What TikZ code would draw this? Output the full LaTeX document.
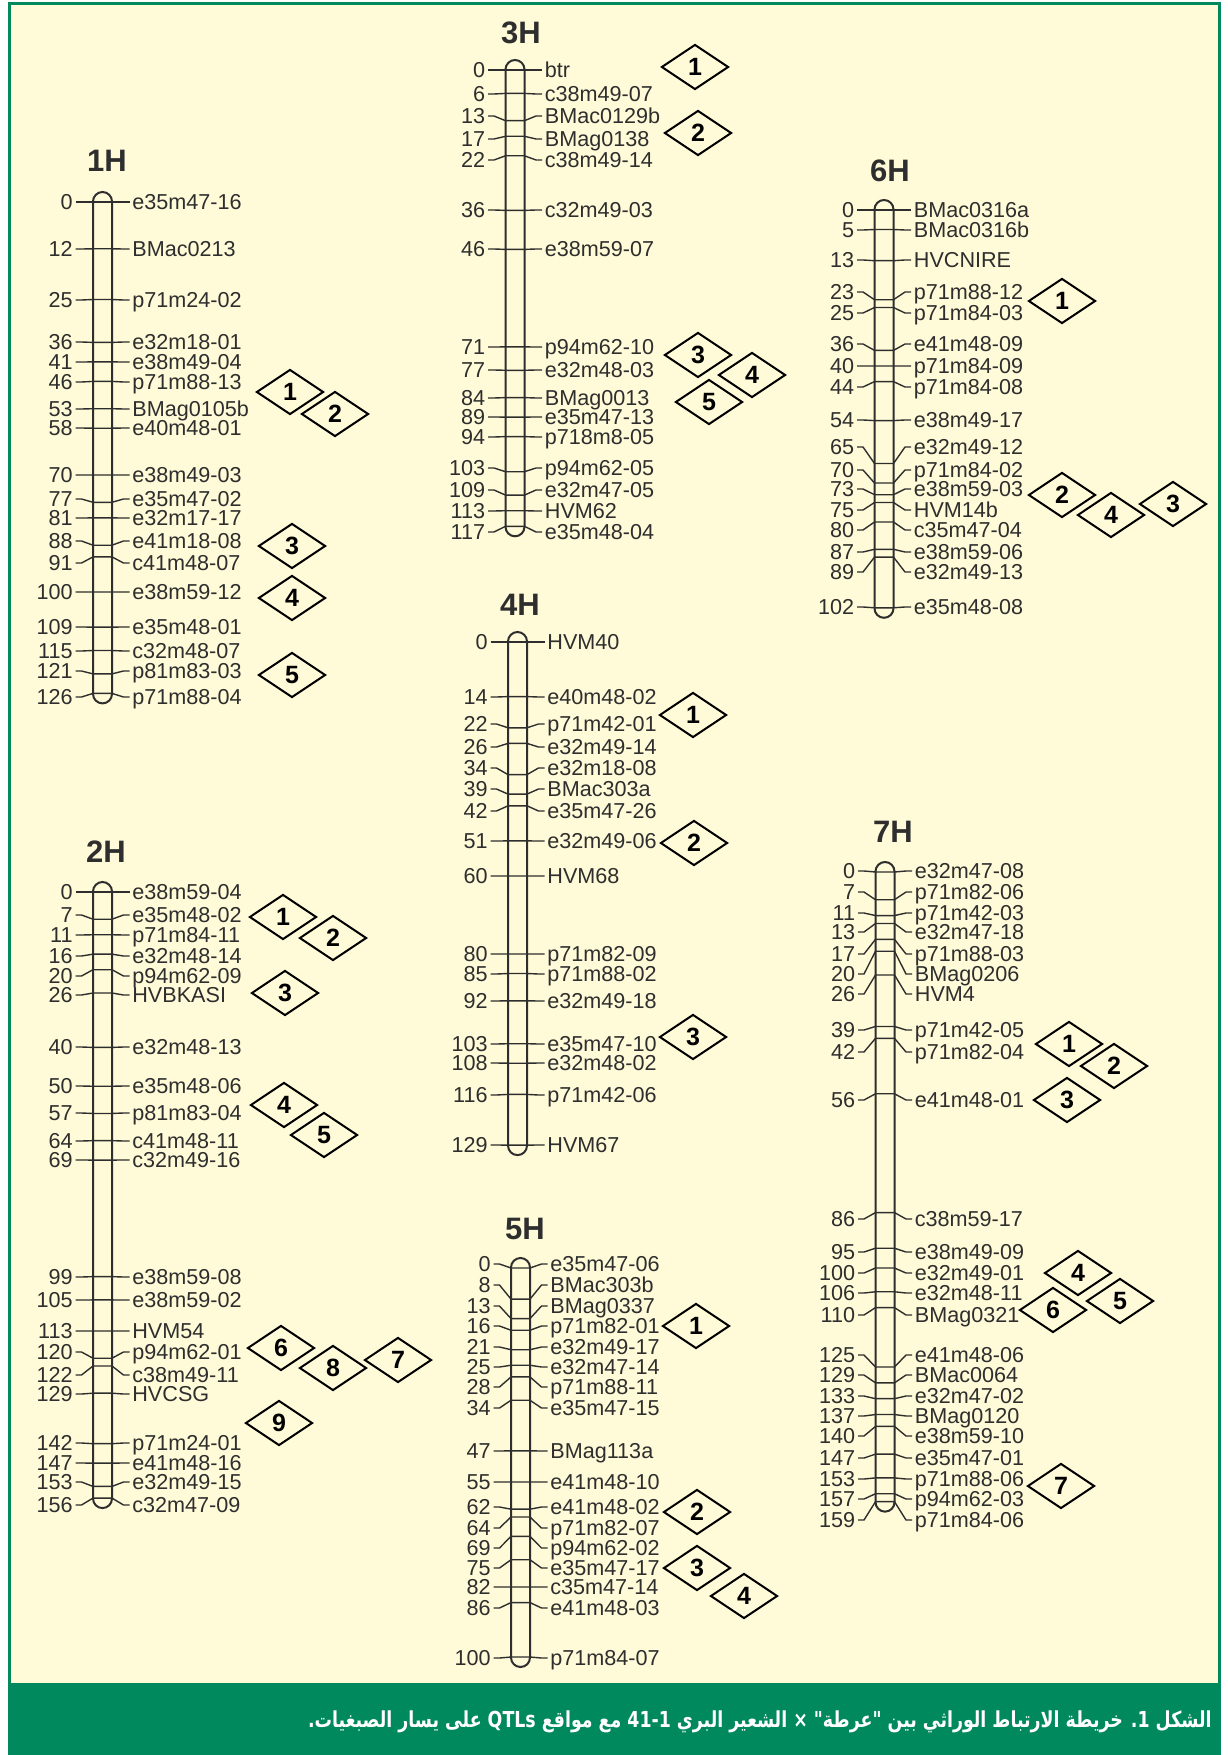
\documentclass[tikz,border=0pt]{standalone}
\usepackage{fontspec}
\setmainfont{Liberation Sans}
\newfontfamily\arabicfont[Script=Arabic, FakeStretch=0.79]{DejaVu Sans}
\TeXXeTstate=1
\usetikzlibrary{shapes.geometric}
\definecolor{mapyellow}{HTML}{FFFAD7}
\definecolor{mapgreen}{HTML}{00895C}
\definecolor{mapink}{HTML}{2E2E2E}
\tikzset{
  chrompicture/.style={x=0.5pt, y=-0.5pt},
  chrombar/.style={draw=mapink, line width=1pt, rounded corners=4.75pt},
  chromtick/.style={draw=mapink, line width=0.7pt},
  chrompos/.style={anchor=base east, inner sep=0pt, text=mapink, font=\fontsize{10.8}{12}\selectfont},
  chrommark/.style={chrompos, anchor=base west},
  chromtitle/.style={inner sep=0pt, text=mapink, font=\bfseries\fontsize{15.5}{17}\selectfont},
  chromqtl/.style={diamond, draw=black, fill=mapyellow, line width=1pt, minimum width=33.5pt, minimum height=22.5pt, inner sep=0pt, font=\bfseries\fontsize{12.5}{13}\selectfont},
  chromcaption/.style={anchor=east, inner sep=0pt, text=white, font=\arabicfont\bfseries\fontsize{11}{13}\selectfont}
}
% #1 name, #2 bar centre x, #3 y of 0 cM, #4 px per cM, #5 last cM, #6 cM/label y/marker
\newcommand{\drawchromosome}[6]{%
  \draw[chrombar] (#2-9.5,#3-10) rectangle (#2+9.5,#3+#4*#5+10);
  \foreach \cm/\ly/\mk in {#6}{%
    \pgfmathsetmacro{\cy}{#3+#4*\cm}
    \draw[chromtick] (#2-27,\ly) -- (#2-21,\ly) -- (#2-9.5,\cy) -- (#2+9.5,\cy) -- (#2+21,\ly) -- (#2+27,\ly);
    \node[chrompos] (#1p\cm) at (#2-29.5,\ly+7.5) {\cm};
    \node[chrommark] (#1m\cm) at (#2+29.5,\ly+7.5) {\mk};
  }%
}

\begin{document}
\begin{tikzpicture}[chrompicture]
\useasboundingbox (0,0) rectangle (1227,1755);
\fill[white] (0,0) rectangle (1227,1755);
\fill[mapgreen] (8,2) rectangle (1221,1755);
\fill[mapyellow] (11,5) rectangle (1218,1683);

% linkage groups
\drawchromosome{1H}{102.5}{202}{3.9}{126}{0/202/e35m47-16, 12/249/BMac0213, 25/300/p71m24-02, 36/342/e32m18-01, 41/362/e38m49-04, 46/382/p71m88-13, 53/409/BMag0105b, 58/428/e40m48-01, 70/475/e38m49-03, 77/499/e35m47-02, 81/518/e32m17-17, 88/541/e41m18-08, 91/563/c41m48-07, 100/592/e38m59-12, 109/627/e35m48-01, 115/651/c32m48-07, 121/671/p81m83-03, 126/697/p71m88-04}
\drawchromosome{2H}{102.5}{892}{3.885}{156}{0/892/e38m59-04, 7/915/e35m48-02, 11/935/p71m84-11, 16/956/e32m48-14, 20/976/p94m62-09, 26/995/HVBKASI, 40/1047/e32m48-13, 50/1086/e35m48-06, 57/1113/p81m83-04, 64/1141/c41m48-11, 69/1160/c32m49-16, 99/1277/e38m59-08, 105/1300/e38m59-02, 113/1331/HVM54, 120/1352/p94m62-01, 122/1375/c38m49-11, 129/1394/HVCSG, 142/1443/p71m24-01, 147/1463/e41m48-16, 153/1482/e32m49-15, 156/1505/c32m47-09}
\drawchromosome{3H}{515}{70}{3.9}{117}{0/70/btr, 6/94/c38m49-07, 13/116/BMac0129b, 17/139/BMag0138, 22/160/c38m49-14, 36/210/c32m49-03, 46/249/e38m59-07, 71/347/p94m62-10, 77/370/e32m48-03, 84/398/BMag0013, 89/417/e35m47-13, 94/437/p718m8-05, 103/468/p94m62-05, 109/490/e32m47-05, 113/511/HVM62, 117/532/e35m48-04}
\drawchromosome{4H}{517.5}{642}{3.9}{129}{0/642/HVM40, 14/697/e40m48-02, 22/724/p71m42-01, 26/747/e32m49-14, 34/768/e32m18-08, 39/789/BMac303a, 42/811/e35m47-26, 51/841/e32m49-06, 60/876/HVM68, 80/954/p71m82-09, 85/974/p71m88-02, 92/1001/e32m49-18, 103/1044/e35m47-10, 108/1063/e32m48-02, 116/1095/p71m42-06, 129/1145/HVM67}
\drawchromosome{5H}{520.5}{1268}{3.89}{100}{0/1264/e35m47-06, 8/1285/BMac303b, 13/1306/BMag0337, 16/1326/p71m82-01, 21/1347/e32m49-17, 25/1367/e32m47-14, 28/1387/p71m88-11, 34/1408/e35m47-15, 47/1451/BMag113a, 55/1482/e41m48-10, 62/1507/e41m48-02, 64/1528/p71m82-07, 69/1548/p94m62-02, 75/1568/e35m47-17, 82/1587/c35m47-14, 86/1608/e41m48-03, 100/1658/p71m84-07}
\drawchromosome{6H}{884}{210}{3.9}{102}{0/210/BMac0316a, 5/230/BMac0316b, 13/260/HVCNIRE, 23/292/p71m88-12, 25/313/p71m84-03, 36/344/e41m48-09, 40/366/p71m84-09, 44/387/p71m84-08, 54/420/e38m49-17, 65/447/e32m49-12, 70/470/p71m84-02, 73/489/e38m59-03, 75/510/HVM14b, 80/530/c35m47-04, 87/552/e38m59-06, 89/572/e32m49-13, 102/607/e35m48-08}
\drawchromosome{7H}{885}{872}{3.96}{159}{0/871/e32m47-08, 7/892/p71m82-06, 11/913/p71m42-03, 13/932/e32m47-18, 17/954/p71m88-03, 20/974/BMag0206, 26/994/HVM4, 39/1030/p71m42-05, 42/1052/p71m82-04, 56/1100/e41m48-01, 86/1219/c38m59-17, 95/1252/e38m49-09, 100/1273/e32m49-01, 106/1293/e32m48-11, 110/1315/BMag0321, 125/1355/e41m48-06, 129/1375/BMac0064, 133/1396/e32m47-02, 137/1416/BMag0120, 140/1436/e38m59-10, 147/1458/e35m47-01, 153/1479/p71m88-06, 157/1499/p94m62-03, 159/1520/p71m84-06}

% titles
\node[chromtitle] (t1H) at (107,161) {1H};
\node[chromtitle] (t2H) at (106,852) {2H};
\node[chromtitle] (t3H) at (521,33) {3H};
\node[chromtitle] (t4H) at (520,605) {4H};
\node[chromtitle] (t5H) at (525,1229) {5H};
\node[chromtitle] (t6H) at (890,171) {6H};
\node[chromtitle] (t7H) at (893,832) {7H};

% QTL diamonds
\foreach \qx/\qy/\qn in {290/392/1, 335/414/2, 292/546/3, 292/598/4, 292/675/5}
  \node[chromqtl] (q1H\qn) at (\qx,\qy) {\qn};
\foreach \qx/\qy/\qn in {283/917/1, 333/938/2, 285/993/3, 284/1105/4, 324/1135/5, 281/1348/6, 398/1360/7, 333/1368/8, 279/1423/9}
  \node[chromqtl] (q2H\qn) at (\qx,\qy) {\qn};
\foreach \qx/\qy/\qn in {695/67/1, 698/133/2, 698/355/3, 752/375/4, 709/402/5}
  \node[chromqtl] (q3H\qn) at (\qx,\qy) {\qn};
\foreach \qx/\qy/\qn in {693/715/1, 694/843/2, 693/1037/3}
  \node[chromqtl] (q4H\qn) at (\qx,\qy) {\qn};
\foreach \qx/\qy/\qn in {696/1326/1, 697/1512/2, 697/1568/3, 744/1596/4}
  \node[chromqtl] (q5H\qn) at (\qx,\qy) {\qn};
\foreach \qx/\qy/\qn in {1062/301/1, 1062/495/2, 1173/504/3, 1111/515/4}
  \node[chromqtl] (q6H\qn) at (\qx,\qy) {\qn};
\foreach \qx/\qy/\qn in {1069/1044/1, 1114/1066/2, 1067/1100/3, 1078/1273/4, 1120/1301/5, 1053/1310/6, 1061/1486/7}
  \node[chromqtl] (q7H\qn) at (\qx,\qy) {\qn};

% caption
\node[chromcaption] (caption) at (1212,1722) {\beginR الشكل 1. خريطة الارتباط الوراثي بين "عرطة" × الشعير البري \beginL 41-1\endL{} مع مواقع \beginL QTLs\endL{} على يسار الصبغيات.\endR};
\end{tikzpicture}
\end{document}
